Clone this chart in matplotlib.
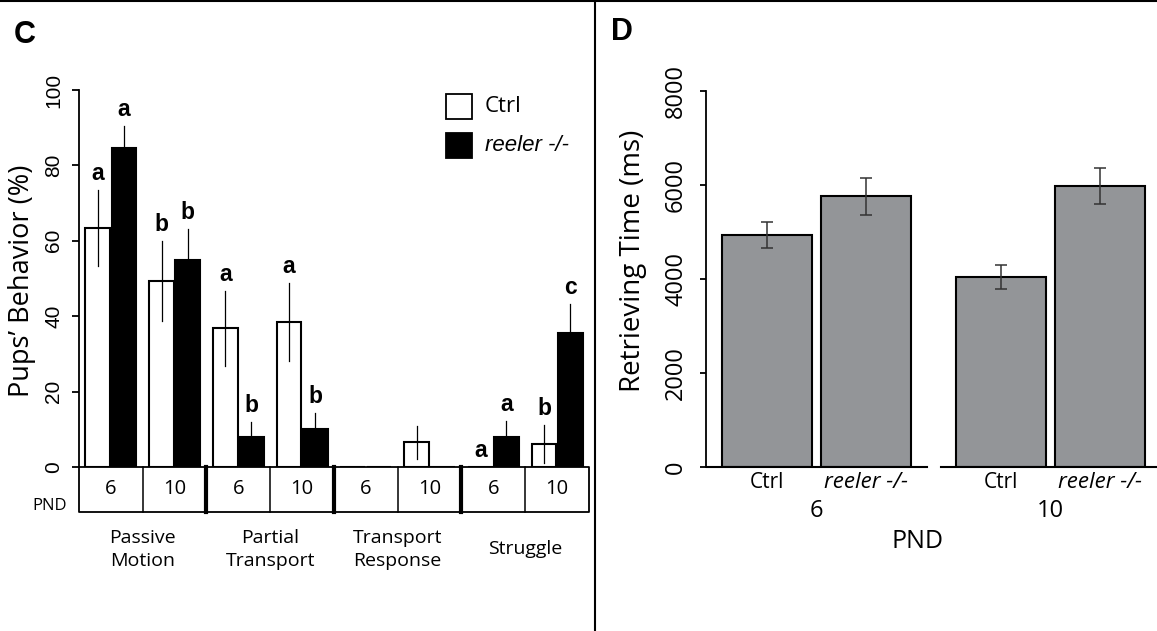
import numpy as np
import matplotlib
matplotlib.use('Agg')
import matplotlib.pyplot as plt
from matplotlib.patches import Rectangle
from matplotlib.lines import Line2D

plt.rcParams['font.family'] = ['Open Sans', 'DejaVu Sans']

# ---- panel C: pups' behaviour (%) per behaviour x PND
behaviors = ['Passive\nMotion', 'Partial\nTransport', 'Transport\nResponse', 'Struggle']
pnd_days = ['6', '10']
ctrl_pct = [63.4, 49.3, 36.8, 38.5, 0, 6.6, 0, 6.1]
ctrl_err = [10.0, 10.7, 10.0, 10.3, 0, 4.4, 0, 5.0]
reeler_pct = [84.6, 54.9, 8.0, 10.1, 0, 0, 8.0, 35.5]
reeler_err = [5.9, 8.2, 4.0, 4.2, 0, 0, 4.2, 7.7]
ctrl_letters = ['a', 'b', 'a', 'a', '', '', 'a', 'b']
reeler_letters = ['a', 'b', 'b', 'b', '', '', 'a', 'c']

# ---- panel D: retrieving time (ms)
genotypes = ['Ctrl', 'reeler -/-']
ctrl_ms = [4930, 4045]
ctrl_ms_err = [275, 257]
reeler_ms = [5760, 5975]
reeler_ms_err = [390, 385]

W, H = 1157, 631


def fx(px):
    return px / W


def fy(py):
    return 1 - py / H


fig = plt.figure(figsize=(W / 100, H / 100), dpi=100)

# =================== panel C ===================
ax1 = fig.add_axes([fx(79), fy(467), (589 - 79) / W, (467 - 90) / H])
ncell = len(ctrl_pct)
cells = np.arange(ncell) + 0.5
bw = 0.39
off = 0.205
ax1.bar(cells - off, ctrl_pct, bw, color='white', edgecolor='black', lw=1.5)
ax1.bar(cells + off, reeler_pct, bw, color='black', edgecolor='black', lw=1.5)

for xs, vals, errs in [(cells - off, ctrl_pct, ctrl_err), (cells + off, reeler_pct, reeler_err)]:
    for x, v, e in zip(xs, vals, errs):
        if v > 0:
            ax1.plot([x, x], [v - e, v + e], color='black', lw=0.9)

# significance letters
for xs, vals, errs, lets in [(cells - off, ctrl_pct, ctrl_err, ctrl_letters),
                             (cells + off, reeler_pct, reeler_err, reeler_letters)]:
    for x, v, e, t in zip(xs, vals, errs, lets):
        if t:
            ax1.text(x, v + e + 2.6, t, ha='center', va='baseline', fontsize=16.5,
                     fontweight='bold', family='Liberation Sans', clip_on=False)

ax1.set_xlim(0, ncell)
ax1.set_ylim(0, 100)
ax1.set_xticks([])
ax1.set_yticks(range(0, 101, 20))
for s in ['top', 'right', 'bottom']:
    ax1.spines[s].set_visible(False)
ax1.spines['left'].set_linewidth(1.3)
ax1.tick_params(axis='y', length=5, width=1.3, pad=6.5, labelsize=15)
for lbl in ax1.get_yticklabels():
    lbl.set_rotation(90)
    lbl.set_va('center')
    lbl.set_family('Liberation Sans')
ax1.set_ylabel('Pups’ Behavior (%)', fontsize=19.5, va='center')
ax1.yaxis.set_label_coords((22 - 79) / 510, (467 - 281) / 377)

# PND table under the bars
px_per_unit = 377 / 100
tb = -45 / px_per_unit
ax1.plot([0, ncell, ncell, 0, 0], [0, 0, tb, tb, 0], color='black', lw=1.3, clip_on=False)
for k in range(1, ncell):
    ax1.plot([k, k], [0, tb], color='black', lw=3 if k % 2 == 0 else 1.1, clip_on=False)
for i, c in enumerate(cells):
    ax1.text(c, tb / 2, pnd_days[i % 2], ha='center', va='center', fontsize=14.5)
ax1.text(-0.19, -39 / px_per_unit, 'PND', ha='right', va='center', fontsize=12)
for g, name in enumerate(behaviors):
    ax1.text(2 * g + 1, -82.5 / px_per_unit, name, ha='center', va='center',
             fontsize=14, linespacing=1.3)

# legend
for ytop, fc, label, style, fam in [(94, 'white', 'Ctrl', 'normal', 'Open Sans'),
                                    (133, 'black', 'reeler -/-', 'italic', 'Liberation Sans')]:
    fig.patches.append(Rectangle((fx(446), fy(ytop + 25)), 26 / W, 25 / H,
                                 transform=fig.transFigure, facecolor=fc,
                                 edgecolor='black', lw=1.3))
    fig.text(fx(485), fy(ytop + 12.5), label, ha='left', va='center', fontsize=16,
             style=style, family=fam)

# =================== panel D ===================
ax2 = fig.add_axes([fx(706), fy(467), (W - 706) / W, (467 - 91) / H])
unit = 90
x0 = 0.68
gstep = 2.6
sstep = 1.1
groups = np.arange(len(pnd_days))
xc = x0 + gstep * groups
xr = xc + sstep
ax2.bar(xc, ctrl_ms, 1.0, color='#939598', edgecolor='black', lw=1.5)
ax2.bar(xr, reeler_ms, 1.0, color='#939598', edgecolor='black', lw=1.5)
ax2.errorbar(np.concatenate([xc, xr]), ctrl_ms + reeler_ms, yerr=ctrl_ms_err + reeler_ms_err,
             fmt='none', ecolor='#333333', elinewidth=1.1, capsize=4, capthick=1.1)

ax2.set_xlim(0, (W - 706) / unit)
ax2.set_ylim(0, 8000)
for g in groups:
    ax2.plot([xc[g] - 0.67, xr[g] + 0.67], [0, 0], color='black', lw=1.5, clip_on=False)

ms_per_px = 8000 / 376
for g in groups:
    ax2.text(xc[g], -15 * ms_per_px, genotypes[0], ha='center', va='center', fontsize=15)
    ax2.text(xr[g], -15 * ms_per_px, genotypes[1], ha='center', va='center', fontsize=16,
             style='italic')
    ax2.text((xc[g] + xr[g]) / 2, -44 * ms_per_px, pnd_days[g], ha='center', va='center',
             fontsize=17)
ax2.text((917 - 706) / unit, -75 * ms_per_px, 'PND', ha='center', va='center', fontsize=18)

ax2.set_xticks([])
ax2.set_yticks(range(0, 8001, 2000))
for s in ['top', 'right', 'bottom']:
    ax2.spines[s].set_visible(False)
ax2.spines['left'].set_linewidth(1.3)
ax2.tick_params(axis='y', length=4.3, width=1.3, pad=8.6, labelsize=17)
for lbl in ax2.get_yticklabels():
    lbl.set_rotation(90)
    lbl.set_va('center')
ax2.set_ylabel('Retrieving Time (ms)', fontsize=20, va='center')
ax2.yaxis.set_label_coords((633 - 706) / 451, (467 - 261) / 376)

# panel letters and frame lines
fig.text(fx(25), fy(35), 'C', ha='center', va='center', fontsize=22, fontweight='bold',
         family='Liberation Sans')
fig.text(fx(622), fy(32), 'D', ha='center', va='center', fontsize=22, fontweight='bold',
         family='Liberation Sans')
fig.add_artist(Line2D([0, 1], [fy(1), fy(1)], transform=fig.transFigure, color='black', lw=1.5))
fig.add_artist(Line2D([fx(595), fx(595)], [0, 1], transform=fig.transFigure, color='black', lw=1.5))

fig.savefig('out.png', dpi=100)
